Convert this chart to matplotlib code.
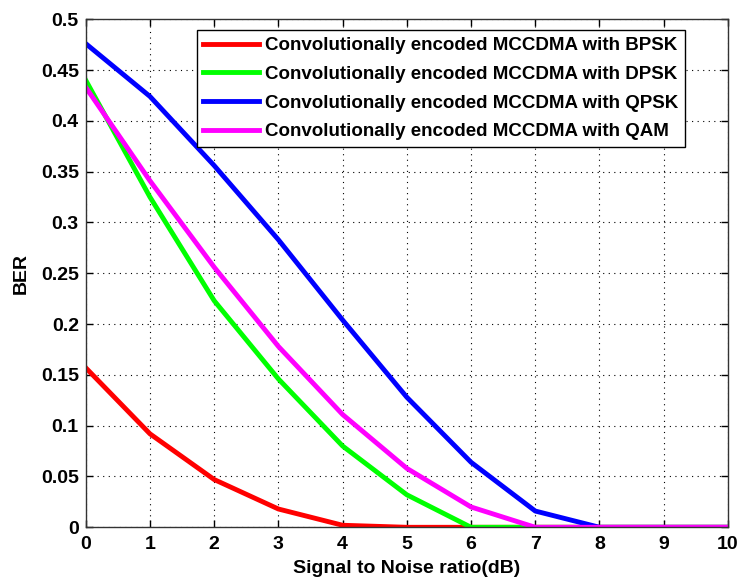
import numpy as np
import matplotlib.pyplot as plt

plt.rcParams['font.family'] = ['Liberation Sans', 'DejaVu Sans']
plt.rcParams['font.weight'] = 'bold'

snr = [0, 1, 2, 3, 4, 5, 6, 7, 8, 9, 10]
ber_bpsk = [0.157, 0.092, 0.047, 0.018, 0.002, 0.0, 0.0, 0.0, 0.0, 0.0, 0.0]
ber_dpsk = [0.440, 0.325, 0.223, 0.146, 0.080, 0.032, 0.0, 0.0, 0.0, 0.0, 0.0]
ber_qpsk = [0.476, 0.424, 0.356, 0.283, 0.204, 0.128, 0.064, 0.016, 0.0, 0.0, 0.0]
ber_qam = [0.433, 0.341, 0.256, 0.178, 0.111, 0.058, 0.020, 0.0, 0.0, 0.0, 0.0]

labels = ['Convolutionally encoded MCCDMA with BPSK',
          'Convolutionally encoded MCCDMA with DPSK',
          'Convolutionally encoded MCCDMA with QPSK',
          'Convolutionally encoded MCCDMA with QAM']

fig = plt.figure(figsize=(7.39, 5.82), dpi=100)
ax = fig.add_axes([0.116, 0.094, 0.869, 0.873])

ax.plot(snr, ber_bpsk, color='#ff0000', lw=3.5, label=labels[0])
ax.plot(snr, ber_dpsk, color='#00ff00', lw=3.5, label=labels[1])
ax.plot(snr, ber_qpsk, color='#0000ff', lw=3.5, label=labels[2])
ax.plot(snr, ber_qam, color='#ff00ff', lw=3.5, label=labels[3])

ax.set_xlim(0, 10)
ax.set_ylim(0, 0.5)
ax.set_xticks(range(0, 11))
ax.set_yticks(np.arange(0, 0.51, 0.05))
ax.set_yticklabels(['0', '0.05', '0.1', '0.15', '0.2', '0.25', '0.3', '0.35', '0.4', '0.45', '0.5'])
ax.tick_params(direction='in', top=True, right=True, labelsize=14, length=5, width=1)
ax.tick_params(axis='x', pad=6)
ax.tick_params(axis='y', pad=5)
ax.grid(True, color='black', linestyle=(0, (1, 4)), linewidth=0.8)
for s in ax.spines.values():
    s.set_linewidth(1)
    s.set_color('#333333')

ax.set_xlabel('Signal to Noise ratio(dB)', fontsize=14, fontweight='bold', labelpad=5)
ax.set_ylabel('BER', fontsize=14, fontweight='bold', labelpad=8)

leg = ax.legend(loc='upper right', bbox_to_anchor=(0.933, 0.978), fontsize=13.5,
                fancybox=False, framealpha=1, edgecolor='black', handlelength=3.0,
                borderpad=0.35, labelspacing=0.62, borderaxespad=0, handletextpad=0.3)
leg.get_frame().set_linewidth(1)

fig.savefig('out.png', dpi=100)
